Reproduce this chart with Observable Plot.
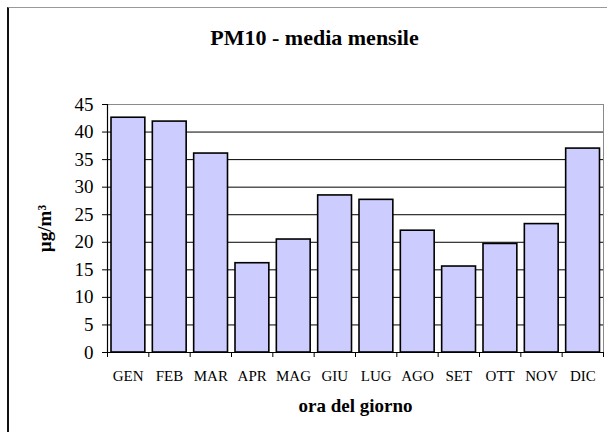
<!DOCTYPE html>
<html>
<head>
<meta charset="utf-8">
<script src="https://cdn.jsdelivr.net/npm/d3@7"></script>
<script src="https://cdn.jsdelivr.net/npm/@observablehq/plot@0.6"></script>
<style>
  html, body { margin: 0; padding: 0; background: #fff; }
  #wrap { position: relative; width: 607px; height: 432px; overflow: hidden; background: #fff; }
  #box { position: absolute; left: 7px; top: 7px; width: 640px; height: 460px;
         border-left: 2px solid #111; border-top: 1px solid #999; box-sizing: border-box; }
  #chart { position: absolute; left: 0; top: 0; }
  #chart svg, #chart svg text { font-family: "Liberation Serif", "Times New Roman", serif !important; }
</style>
</head>
<body>
<div id="wrap"><div id="box"></div><div id="chart"></div></div>
<script>
const months = ["GEN", "FEB", "MAR", "APR", "MAG", "GIU", "LUG", "AGO", "SET", "OTT", "NOV", "DIC"];
const pm10 = [42.6, 41.9, 36.1, 16.2, 20.5, 28.5, 27.7, 22.1, 15.6, 19.7, 23.3, 37.0];
const yTicks = [0, 5, 10, 15, 20, 25, 30, 35, 40, 45];
const titleText = "PM10 - media mensile";
const yLabel = "µg/m³";
const xLabel = "ora del giorno";

const data = months.map((m, i) => ({ m, i, v: pm10[i] }));
const bounds = d3.range(months.length + 1);
const centers = months.map((m, i) => i + 0.5);

const serif = "Liberation Serif";

const chart = Plot.plot({
  width: 607,
  height: 432,
  marginLeft: 107,
  marginRight: 4,
  marginTop: 104,
  marginBottom: 80,
  x: { type: "linear", domain: [0, months.length], label: null },
  y: { domain: [0, 45], label: null },
  style: { fontSize: "15px", color: "#000", background: "transparent", overflow: "visible" },
  marks: [
    Plot.ruleY(yTicks.filter(d => d > 0 && d < 45), { stroke: "#000", strokeWidth: 1 }),
    Plot.frame({ stroke: "#8a8a8a" }),
    Plot.rectY(data, {
      x1: "i", x2: d => d.i + 1, y: "v",
      fill: "#ccccff", stroke: "#000", strokeWidth: 1.6,
      insetLeft: 4, insetRight: 3.5
    }),
    Plot.ruleX([0], { stroke: "#000", strokeWidth: 1.2 }),
    Plot.ruleY([0], { stroke: "#000", strokeWidth: 1.2 }),
    Plot.axisY({ ticks: yTicks, tickSize: 5, tickPadding: 9, fontSize: 19, fontFamily: serif, label: null, stroke: "#000" }),
    Plot.axisX({ ticks: bounds, tickSize: 5, tickFormat: () => "", label: null, stroke: "#000" }),
    Plot.axisX({ ticks: centers, tickSize: 0, tickPadding: 18, fontSize: 15, fontFamily: serif, label: null,
                 tickFormat: d => months[Math.floor(d)] }),
    Plot.text([yLabel], { frameAnchor: "left", dx: -63, rotate: -90, fontSize: 19, fontWeight: "bold",
                          fontFamily: serif, textAnchor: "middle", lineAnchor: "middle", fill: "#000" }),
    Plot.text([xLabel], { frameAnchor: "bottom", dy: 53, fontSize: 19, fontWeight: "bold",
                          fontFamily: serif, lineAnchor: "middle", fill: "#000" }),
    Plot.text([titleText], { frameAnchor: "top", dx: -41, dy: -67, fontSize: 22, fontWeight: "bold",
                             fontFamily: serif, lineAnchor: "middle", fill: "#000" })
  ]
});
document.getElementById("chart").appendChild(chart);
</script>
</body>
</html>
